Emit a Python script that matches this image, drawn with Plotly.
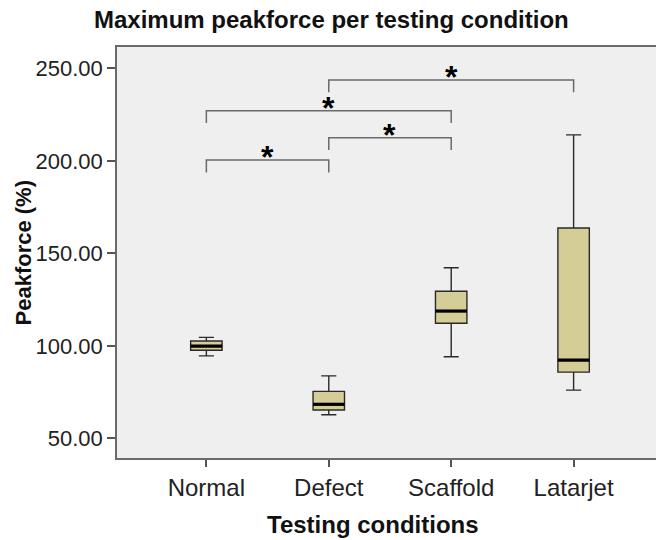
import plotly.graph_objects as go

categories = ["Normal", "Defect", "Scaffold", "Latarjet"]
lower_whisker = [94.6, 62.8, 94.1, 76.1]
q1_values = [97.6, 65.3, 112.2, 85.8]
medians = [99.9, 68.4, 118.8, 92.3]
q3_values = [102.6, 75.4, 129.5, 163.7]
upper_whisker = [104.6, 83.8, 142.2, 214.0]

# significance comparisons (category index pairs) and bracket heights
comp_pairs = [(1, 3), (0, 2), (1, 2), (0, 1)]
comp_heights = [243.7, 227.1, 212.5, 200.4]
leg_drop = 6.7

y_ticks = [50, 100, 150, 200, 250]

FONT = "Liberation Sans, Arial, sans-serif"
BOX_W = 0.257

fig = go.Figure()
fig.add_trace(go.Box(
    x=categories,
    q1=q1_values, median=medians, q3=q3_values,
    lowerfence=lower_whisker, upperfence=upper_whisker,
    fillcolor="#d4cd96",
    line=dict(color="#2a2a2a", width=1.4),
    width=BOX_W,
    whiskerwidth=0.48,
    boxpoints=False,
    showlegend=False,
    hoverinfo="skip",
))

shapes = []
for i, m in enumerate(medians):
    shapes.append(dict(type="line", xref="x", yref="y",
                       x0=i - BOX_W / 2, x1=i + BOX_W / 2, y0=m, y1=m,
                       line=dict(color="black", width=3.2)))

annotations = []
for (a, b), h in zip(comp_pairs, comp_heights):
    shapes.append(dict(type="path", xref="x", yref="y",
                       path=f"M {a},{h - leg_drop} L {a},{h} L {b},{h} L {b},{h - leg_drop}",
                       line=dict(color="#6a6a6a", width=1.5)))
    annotations.append(dict(x=(a + b) / 2, y=h, xref="x", yref="y",
                            text="<b>*</b>", showarrow=False,
                            yanchor="middle", yshift=3,
                            font=dict(family=FONT, size=32, color="black")))

annotations += [
    dict(x=(331 - 117) / (656 - 117), y=1, xref="paper", yref="paper",
         yanchor="bottom", yshift=12,
         text="<b>Maximum peakforce per testing condition</b>", showarrow=False,
         font=dict(family=FONT, size=24, color="#111")),
    dict(x=(373 - 117) / (656 - 117), y=0, xref="paper", yref="paper",
         yanchor="middle", yshift=-(524 - 458),
         text="<b>Testing conditions</b>", showarrow=False,
         font=dict(family=FONT, size=24, color="#111")),
    dict(x=0, y=0.5, xref="paper", yref="paper", textangle=-90,
         xanchor="center", xshift=-(117 - 23),
         text="<b>Peakforce (%)</b>", showarrow=False,
         font=dict(family=FONT, size=22, color="#111")),
]

fig.update_layout(
    width=656, height=540,
    margin=dict(l=117, r=0, t=47, b=82),
    paper_bgcolor="white",
    plot_bgcolor="#efefef",
    font=dict(family=FONT, color="#222"),
    shapes=shapes,
    annotations=annotations,
)

fig.update_xaxes(
    type="category", range=[-0.73, 3.673],
    showline=True, linecolor="#6a6a6a", linewidth=1.5, mirror=True,
    ticks="outside", ticklen=7, tickcolor="#555", tickwidth=1.5,
    tickfont=dict(family=FONT, size=24, color="#222"),
    showgrid=False, zeroline=False,
)
fig.update_yaxes(
    range=[39.4, 261.5], tickvals=y_ticks, tickformat=".2f",
    showline=True, linecolor="#6a6a6a", linewidth=1.5, mirror=False,
    ticks="outside", ticklen=8, tickcolor="#555", tickwidth=1.5,
    tickfont=dict(family=FONT, size=22, color="#222"),
    showgrid=False, zeroline=False,
)

fig.write_html("out.html", config={"displayModeBar": False},
               post_script="document.body.style.margin='0';")
